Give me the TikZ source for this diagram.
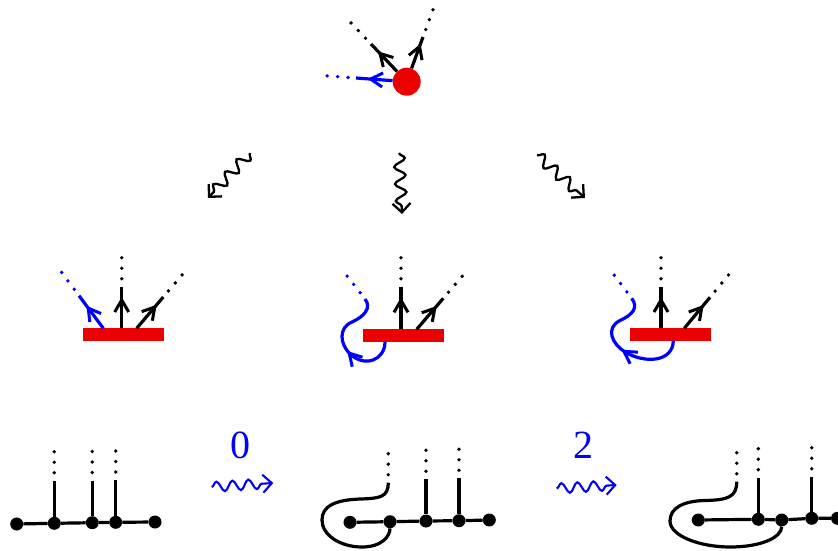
\documentclass[tikz,border=0pt]{standalone}
\usepackage{fontspec}
\setmainfont{Liberation Serif}
\usetikzlibrary{calc,decorations.pathmorphing,decorations.markings,arrows.meta}
\definecolor{vred}{RGB}{235,0,0}
\definecolor{vblue}{RGB}{0,0,255}
\tikzset{
  thickline/.style={line width=3.2pt},
  midarrow/.style={postaction={decorate,decoration={markings,mark=at position #1 with {\draw[line width=3pt,line join=miter] (-12pt,7pt) -- (0pt,0pt) -- (-12pt,-7pt);}}}},
  squig/.style={line width=2.3pt,decorate,decoration={snake,amplitude=5.5pt,segment length=17pt,post length=7pt},-{Straight Barb[length=9pt,width=18pt]}},
  bsquig/.style={squig,line width=2.1pt,decoration={snake,amplitude=5pt,segment length=16pt,post length=7pt},vblue},
  hub/.style={circle,fill=vred,inner sep=0pt,minimum size=28pt},
  redbar/.style={rectangle,fill=vred,inner sep=0pt,minimum width=81pt,minimum height=12.5pt},
  vtx/.style={circle,fill=black,inner sep=0pt,minimum size=13pt},
  lbl/.style={inner sep=0pt,text=vblue,font=\fontsize{40}{40}\selectfont}
}
% dots continuing a line beyond its end #2, away from #3
\newcommand\dottrail[3][black]{%
  \foreach \k in {0,1,2}{%
    \pgfmathsetmacro{\traildist}{8+\k*10.5}%
    \fill[#1] ($(#2)!\traildist pt!180:(#3)$) circle (1.9pt);
  }%
}
\begin{document}
\begin{tikzpicture}[x=1pt,y=-1pt]
\clip (0,0) rectangle (838,551);
\fill[white] (0,0) rectangle (838,551);

% ---------- top vertex ----------
\node[hub] (h) at (406.7,81.7) {};
\coordinate (h1) at (371,44);
\coordinate (h2) at (423,37);
\coordinate (h3) at (356,78);
\draw[thickline,midarrow=0.65] (h) -- (h1);
\draw[thickline,midarrow=0.7] (h) -- (h2);
\draw[thickline,vblue,midarrow=0.6] (h) -- (h3);
\dottrail{h1}{h}
\dottrail{h2}{h}
\dottrail[vblue]{h3}{h}

% ---------- squiggly arrows ----------
\coordinate (q1s) at (250,153); \coordinate (q1e) at (208,198);
\coordinate (q2s) at (399,153); \coordinate (q2e) at (402,214);
\coordinate (q3s) at (537,155); \coordinate (q3e) at (585,198);
\draw[squig] (q1s) -- (q1e);
\draw[squig] (q2s) -- (q2e);
\draw[squig] (q3s) -- (q3e);

% ---------- middle row: left ----------
\node[redbar] (B1) at (123.6,334.5) {};
\coordinate (a1s) at (121.7,328.3); \coordinate (a1e) at (121.7,286.7);
\coordinate (a2s) at (136.7,328.3); \coordinate (a2e) at (163.3,297);
\coordinate (a3s) at (103.3,328.3); \coordinate (a3e) at (79,295.7);
\draw[thickline,midarrow=0.68] (a1s) -- (a1e);
\draw[thickline,midarrow=0.68] (a2s) -- (a2e);
\draw[thickline,vblue,midarrow=0.62] (a3s) -- (a3e);
\dottrail{a1e}{a1s}
\dottrail{a2e}{a2s}
\dottrail[vblue]{a3e}{a3s}

% ---------- middle row: centre ----------
\node[redbar] (B2) at (403.6,335.5) {};
\coordinate (c1s) at (401,329.3); \coordinate (c1e) at (401,286.7);
\coordinate (c2s) at (416.7,329.3); \coordinate (c2e) at (443.3,298.3);
\draw[thickline,midarrow=0.68] (c1s) -- (c1e);
\draw[thickline,midarrow=0.68] (c2s) -- (c2e);
\dottrail{c1e}{c1s}
\dottrail{c2e}{c2s}
\coordinate (bm0) at (385,341.7);
\coordinate (bm1) at (365,299);
\coordinate (bm1b) at (372,308);
\draw[thickline,vblue,midarrow=0.42] (bm0) .. controls (385,360) and (365,368) .. (350,354)
  .. controls (340,344) and (338,328) .. (352,322)
  .. controls (364,316.5) and (372,308) .. (bm1);
\dottrail[vblue]{bm1}{bm1b}

% ---------- middle row: right ----------
\node[redbar] (B3) at (670.7,334.5) {};
\coordinate (d1s) at (661,328.3); \coordinate (d1e) at (661,286.7);
\coordinate (d2s) at (684.3,328.3); \coordinate (d2e) at (710,297.3);
\draw[thickline,midarrow=0.68] (d1s) -- (d1e);
\draw[thickline,midarrow=0.68] (d2s) -- (d2e);
\dottrail{d1e}{d1s}
\dottrail{d2e}{d2s}
\coordinate (br0) at (673.3,340.7);
\coordinate (br1) at (631.7,298.3);
\coordinate (br1b) at (639,308);
\draw[thickline,vblue,midarrow=0.47] (br0) .. controls (673,362) and (645,364) .. (625,352)
  .. controls (612,344) and (605,328) .. (620,320.5)
  .. controls (632,315) and (639,308) .. (br1);
\dottrail[vblue]{br1}{br1b}

% ---------- bottom row: left graph ----------
\node[vtx] (n1) at (16.7,524) {};
\node[vtx] (n2) at (54.3,523.3) {};
\node[vtx] (n3) at (92.3,522.7) {};
\node[vtx] (n4) at (115.7,522.3) {};
\node[vtx] (n5) at (155,522) {};
\coordinate (t2) at (54.3,480.7);
\coordinate (t3) at (92.3,480.5);
\coordinate (t4) at (115.7,480);
\draw[thickline] (n1) -- (n2) -- (n3) -- (n4) -- (n5);
\draw[thickline] (n2) -- (t2);
\draw[thickline] (n3) -- (t3);
\draw[thickline] (n4) -- (t4);
\dottrail{t2}{n2}
\dottrail{t3}{n3}
\dottrail{t4}{n4}

% ---------- label 0 ----------
\node[lbl] (L0) at (240,445.5) {0};
\coordinate (s0a) at (211.7,487); \coordinate (s0b) at (273.3,483);
\draw[bsquig] (s0a) -- (s0b);

% ---------- bottom row: middle graph ----------
\node[vtx] (m1) at (350,522.3) {};
\node[vtx] (m2) at (390,521.7) {};
\node[vtx] (m3) at (426,521) {};
\node[vtx] (m4) at (459,520.7) {};
\node[vtx] (m5) at (489.3,520) {};
\coordinate (u3) at (426,479.3);
\coordinate (u4) at (459,478.3);
\coordinate (cu) at (388.3,482.7);
\coordinate (cub) at (388.3,497);
\draw[thickline] (m1) -- (m2) -- (m3) -- (m4) -- (m5);
\draw[thickline] (m3) -- (u3);
\draw[thickline] (m4) -- (u4);
\draw[thickline] (cu) .. controls (388.3,497) and (380,498.5) .. (360,499)
  .. controls (335,500) and (322,506) .. (322,520)
  .. controls (322,535) and (340,547) .. (362,547)
  .. controls (382,547) and (390,536) .. (m2);
\dottrail{u3}{m3}
\dottrail{u4}{m4}
\dottrail{cu}{cub}

% ---------- label 2 ----------
\node[lbl] (L2) at (583.3,445.5) {2};
\coordinate (s2a) at (556.7,488.5); \coordinate (s2b) at (616.7,485);
\draw[bsquig] (s2a) -- (s2b);

% ---------- bottom row: right graph ----------
\node[vtx] (r1) at (698.3,520) {};
\node[vtx] (r2) at (758.3,519.3) {};
\node[vtx] (r3) at (781.7,520) {};
\node[vtx] (r4) at (811.7,518.3) {};
\node[vtx] (r5) at (837.5,518.3) {};
\coordinate (w2) at (758.3,477.7);
\coordinate (w4) at (811.7,476.7);
\coordinate (cw) at (736.7,481.7);
\coordinate (cwb) at (736.7,497);
\draw[thickline] (r1) -- (r2) -- (r3) -- (r4) -- (r5);
\draw[thickline] (r2) -- (w2);
\draw[thickline] (r4) -- (w4);
\draw[thickline] (cw) .. controls (736.7,497) and (728,500) .. (705,500.5)
  .. controls (683,501) and (670,508) .. (670,521)
  .. controls (670,536) and (700,547) .. (730,547)
  .. controls (762,547) and (781.7,537) .. (r3);
\dottrail{w2}{r2}
\dottrail{w4}{r4}
\dottrail{cw}{cwb}
\end{tikzpicture}
\end{document}
